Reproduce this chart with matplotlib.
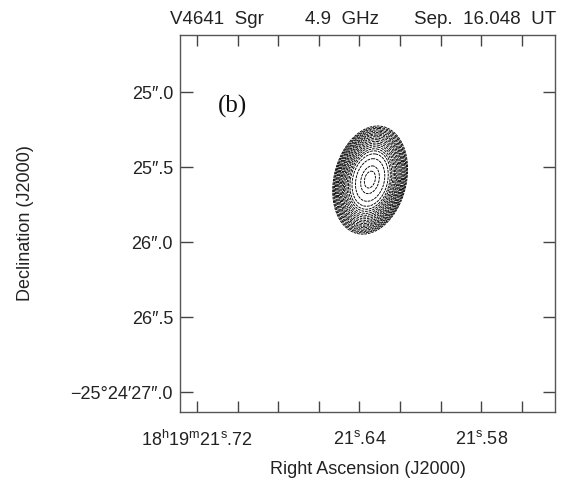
import numpy as np
import matplotlib
matplotlib.use("Agg")
import matplotlib.pyplot as plt
from matplotlib.ticker import FixedLocator, FixedFormatter

plt.rcParams['font.family'] = ['Liberation Sans', 'DejaVu Sans']
plt.rcParams['mathtext.fontset'] = 'custom'
plt.rcParams['mathtext.rm'] = 'Liberation Sans'
plt.rcParams['mathtext.it'] = 'Liberation Sans'

# --- data ---
# RA in seconds of 18h19m, Dec in arcsec of -25d24'
ra_ticks = [21.72, 21.70, 21.68, 21.66, 21.64, 21.62, 21.60, 21.58, 21.56]
ra_labels = [r"18$^{\rm h}$19$^{\rm m}$21$^{\rm s}$.72", "", "", "",
             r"21$^{\rm s}$.64", "", "", r"21$^{\rm s}$.58", ""]
dec_ticks = [25.0, 25.5, 26.0, 26.5, 27.0]
dec_labels = ["25\u2033.0", "25\u2033.5", "26\u2033.0", "26\u2033.5",
              "\u221225\u00b024\u203227\u2033.0"]
ra_limits = [21.7284, 21.5436]
dec_limits = [27.133, 24.62]

# source model: elliptical gaussian components
src_ra = [21.6347, 21.6350]
src_dec = [25.587, 25.575]
src_sig_major = [0.131, 0.06]   # arcsec
src_sig_minor = [0.086, 0.03]   # arcsec
src_pa = [14, 18]               # deg, from north toward west (right)
src_peak = [1.0, 0.10]

# contour levels, fraction of peak
levels = [0.02, 0.024, 0.028, 0.034, 0.04, 0.048, 0.057, 0.067, 0.08, 0.095,
          0.113, 0.135, 0.16, 0.19, 0.226, 0.27, 0.32, 0.40, 0.55,
          0.80, 0.97]

title_left = "V4641  Sgr"
title_mid = "4.9  GHz"
title_right = "Sep.  16.048  UT"

# --- grid ---
cosd = np.cos(np.deg2rad(25.4))
ra = np.linspace(ra_limits[1], ra_limits[0], 400)
dec = np.linspace(dec_limits[1], dec_limits[0], 400)
RA, DEC = np.meshgrid(ra, dec)
field = np.zeros_like(RA)
for r0, d0, sa, sb, pa, pk in zip(src_ra, src_dec, src_sig_major,
                                  src_sig_minor, src_pa, src_peak):
    dx = -(RA - r0) * 15 * cosd          # west to the right
    dy = -(DEC - d0)                     # north up
    t = np.deg2rad(pa)
    u = dx * np.cos(t) - dy * np.sin(t)  # minor axis
    v = dx * np.sin(t) + dy * np.cos(t)  # major axis
    field += pk * np.exp(-0.5 * ((u / sb) ** 2 + (v / sa) ** 2))

fig = plt.figure(figsize=(5.68, 4.8), dpi=100)
ax = fig.add_axes([180 / 568, 1 - 412 / 480, 375 / 568, 377 / 480])

ax.contour(RA, DEC, field, levels=levels, colors='black', linewidths=0.65,
           linestyles=[(0, (3, 1))])

ax.set_xlim(ra_limits)
ax.set_ylim(dec_limits)

ax.xaxis.set_major_locator(FixedLocator(ra_ticks))
ax.xaxis.set_major_formatter(FixedFormatter(ra_labels))
ax.yaxis.set_major_locator(FixedLocator(dec_ticks))
ax.yaxis.set_major_formatter(FixedFormatter(dec_labels))

ax.tick_params(direction='in', top=True, right=True, length=9, width=1,
               color='#444444', labelsize=13, labelcolor='#222222')
ax.tick_params(axis='x', pad=13, length=8)
ax.tick_params(axis='y', pad=5)
for s in ax.spines.values():
    s.set_color('#555555')
    s.set_linewidth(1)

ax.set_xlabel("Right Ascension (J2000)", fontsize=13, color='#222222', labelpad=8)
ax.set_ylabel("Declination (J2000)", fontsize=13, color='#222222', labelpad=26)

ax.text(0.10, 0.795, "(b)", transform=ax.transAxes, fontsize=18,
        family='Liberation Serif', color='#111111')

fig.text(170 / 568, 1 - 20 / 480, title_left, fontsize=13.5, color='#222222',
         ha='left', va='center')
fig.text(342 / 568, 1 - 20 / 480, title_mid, fontsize=13.5, color='#222222',
         ha='center', va='center')
fig.text(556 / 568, 1 - 20 / 480, title_right, fontsize=13.5, color='#222222',
         ha='right', va='center')

fig.savefig("out.png", dpi=100)
